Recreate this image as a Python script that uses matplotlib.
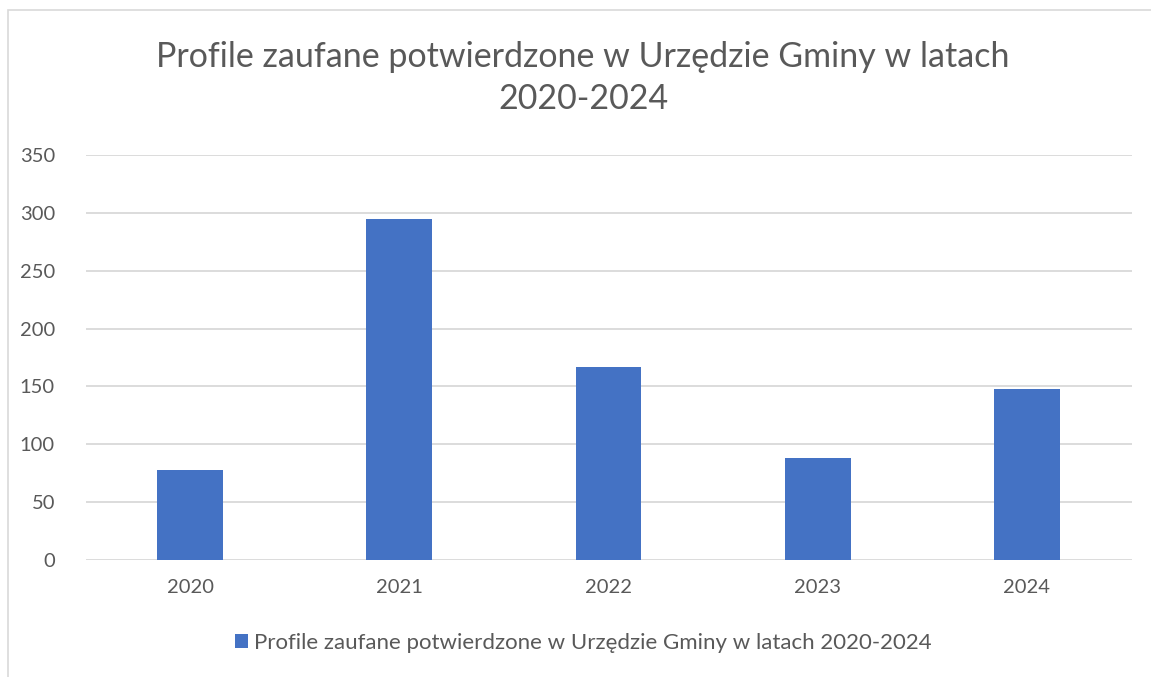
import matplotlib
matplotlib.use("Agg")
import matplotlib.pyplot as plt
from matplotlib.patches import Rectangle

years = ["2020", "2021", "2022", "2023", "2024"]
profiles = [78, 295, 167, 88, 148]
series_name = "Profile zaufane potwierdzone w Urzędzie Gminy w latach 2020-2024"
title = "Profile zaufane potwierdzone w Urzędzie Gminy w latach\n2020-2024"
yticks = [0, 50, 100, 150, 200, 250, 300, 350]

bar_color = "#4472C4"
text_color = "#595959"
grid_color = "#D9D9D9"

plt.rcParams['font.family'] = ['Lato', 'DejaVu Sans']

fig = plt.figure(figsize=(11.51, 6.77), dpi=100)
# chart frame like the spreadsheet chart border
fig.patches.append(Rectangle((8 / 1151, -0.01), 1.2, (677 - 10) / 677 + 0.01,
                             transform=fig.transFigure, fill=False,
                             edgecolor=grid_color, linewidth=1.2))

ax = fig.add_axes([85.5 / 1151, 1 - 560 / 677, (1131.5 - 85.5) / 1151, (560 - 155) / 677])
x = range(len(years))
ax.bar(x, profiles, width=0.315, color=bar_color, zorder=3, label=series_name)
ax.set_xlim(-0.5, len(years) - 0.5)
ax.set_ylim(0, 350)
ax.set_yticks(yticks)
ax.set_xticks(list(x))
ax.set_xticklabels(years)
ax.yaxis.grid(True, color=grid_color, linewidth=1.3, zorder=0)
for s in ax.spines.values():
    s.set_visible(False)
ax.tick_params(length=0, labelsize=14.5, colors=text_color)
ax.tick_params(axis='y', pad=22)
ax.tick_params(axis='x', pad=14)

fig.text(583 / 1151, 1 - 78 / 677, title, ha='center', va='center',
         fontsize=24.5, color=text_color, linespacing=1.35)

leg = fig.legend(loc='center', bbox_to_anchor=(583 / 1151, 1 - 643 / 677),
                 frameon=False, fontsize=16, handlelength=0.6, handleheight=0.6,
                 handletextpad=0.25)
for t in leg.get_texts():
    t.set_color(text_color)

fig.savefig("out.png", dpi=100, facecolor="white")
